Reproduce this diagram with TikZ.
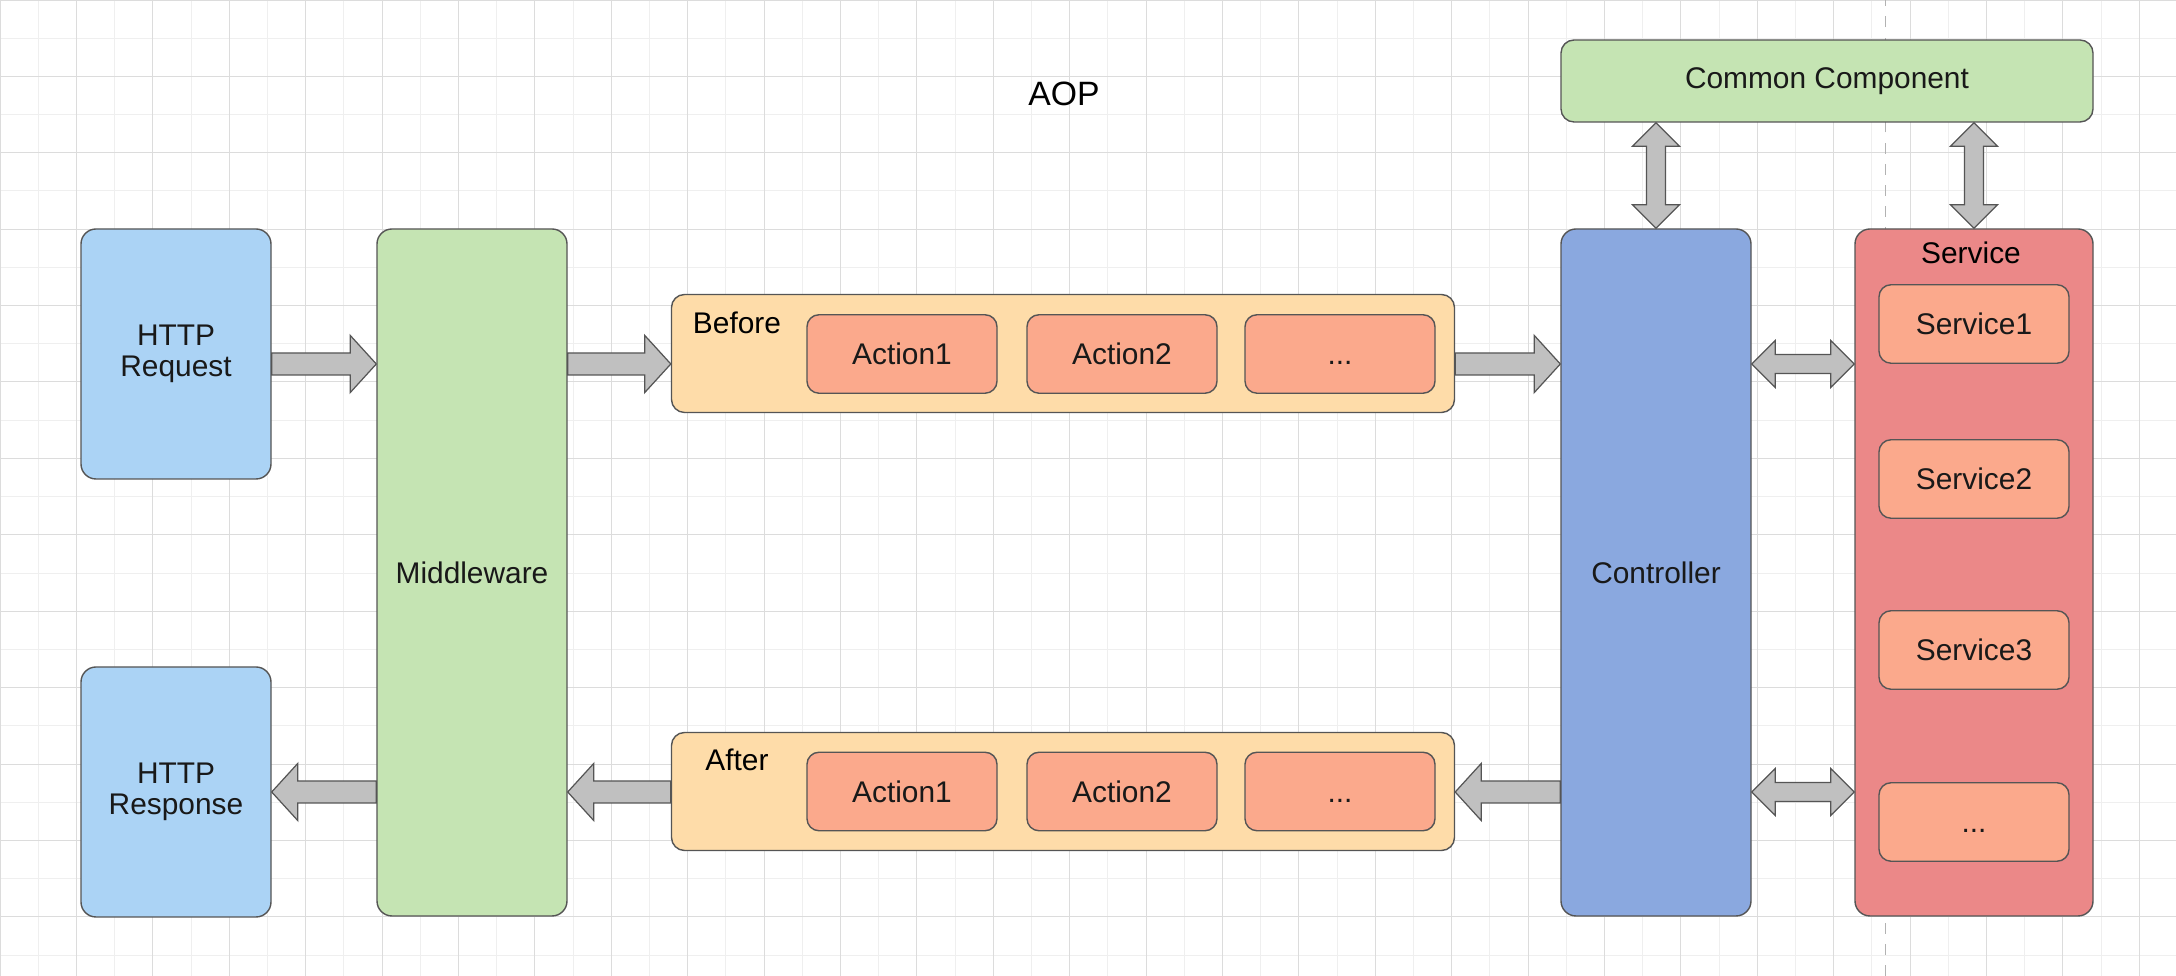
\documentclass[tikz,border=0pt]{standalone}
\usepackage{fontspec}
\setmainfont{Liberation Sans}
\usetikzlibrary{calc}

\definecolor{reqblue}{HTML}{ABD3F5}
\definecolor{mwgreen}{HTML}{C5E4B3}
\definecolor{hookorange}{HTML}{FEDCA9}
\definecolor{actsalmon}{HTML}{FBA98C}
\definecolor{ctrlblue}{HTML}{8AA8DF}
\definecolor{svcred}{HTML}{EB8888}
\definecolor{arrowgray}{HTML}{C0C0C0}
\definecolor{edgegray}{HTML}{555555}
\definecolor{gridminor}{HTML}{EFEFEF}
\definecolor{gridmajor}{HTML}{DCDCDC}

% fat arrow, tip at #2
\newcommand{\fatarrow}[2]{%
	\coordinate (fa-a) at (#1);
	\coordinate (fa-b) at (#2);
	\coordinate (fa-h) at ($(fa-b)!0.26cm!(fa-a)$);
	\draw[fatline] ($(fa-a)!0.11cm!90:(fa-b)$) -- ($(fa-h)!0.11cm!90:(fa-b)$)
		-- ($(fa-h)!0.285cm!90:(fa-b)$) -- (fa-b) -- ($(fa-h)!0.285cm!-90:(fa-b)$)
		-- ($(fa-h)!0.11cm!-90:(fa-b)$) -- ($(fa-a)!0.11cm!-90:(fa-b)$) -- cycle;
}
% fat arrow with two tips
\newcommand{\twowayarrow}[2]{%
	\coordinate (ta-a) at (#1);
	\coordinate (ta-b) at (#2);
	\coordinate (ta-ha) at ($(ta-a)!0.235cm!(ta-b)$);
	\coordinate (ta-hb) at ($(ta-b)!0.235cm!(ta-a)$);
	\draw[fatline] (ta-a) -- ($(ta-ha)!0.235cm!90:(ta-b)$) -- ($(ta-ha)!0.095cm!90:(ta-b)$)
		-- ($(ta-hb)!0.095cm!90:(ta-b)$) -- ($(ta-hb)!0.235cm!90:(ta-b)$) -- (ta-b)
		-- ($(ta-hb)!0.235cm!-90:(ta-b)$) -- ($(ta-hb)!0.095cm!-90:(ta-b)$)
		-- ($(ta-ha)!0.095cm!-90:(ta-b)$) -- ($(ta-ha)!0.235cm!-90:(ta-b)$) -- cycle;
}

\begin{document}
\begin{tikzpicture}[font=\fontsize{8.5}{8.8}\selectfont,
	box/.style={draw=edgegray, line width=0.4pt, rounded corners=0.15cm,
		align=center, inner sep=0pt, text=black!90},
	tallbox/.style={box, minimum width=1.9cm, minimum height=6.87cm},
	hookbox/.style={box, fill=hookorange, rounded corners=0.13cm,
		minimum width=7.83cm, minimum height=1.18cm},
	actbox/.style={box, fill=actsalmon, rounded corners=0.12cm,
		minimum width=1.9cm, minimum height=0.785cm,
		text height=0.215cm, text depth=0cm},
	fatline/.style={draw=edgegray, line width=0.35pt, fill=arrowgray}]
		\useasboundingbox (0,0) rectangle (21.76,9.76);
		\fill[white] (0,0) rectangle (21.76,9.76);
		\draw[gridminor, line width=0.28pt, shift={(0,9.76)}, step=0.382]
			(0,-9.76) grid (21.76,0);
		\draw[gridmajor, line width=0.28pt, shift={(0,9.76)}, step=0.764]
			(0,-9.76) grid (21.76,0);
		\draw[gray!60, line width=0.28pt, dash pattern=on 3pt off 3pt]
			(18.85,0) -- (18.85,9.76);

		\node[font=\fontsize{9.6}{11}\selectfont] (title) at (10.64,8.82) {AOP};

		\node[box, fill=reqblue, minimum width=1.9cm, minimum height=2.5cm]
			(req) at (1.76,6.22) {HTTP\\Request};
		\node[box, fill=reqblue, minimum width=1.9cm, minimum height=2.5cm]
			(resp) at (1.76,1.84) {HTTP\\Response};
		\node[tallbox, fill=mwgreen] (mw) at (4.72,4.035) {Middleware};

		\node[hookbox] (before) at (10.63,6.225) {};
		\node (beforelabel) at (7.37,6.53) {Before};
		\node[actbox] (b1) at (9.02,6.22) {Action1};
		\node[actbox] (b2) at (11.22,6.22) {Action2};
		\node[actbox] (b3) at (13.40,6.22) {...};

		\node[hookbox] (after) at (10.63,1.845) {};
		\node (afterlabel) at (7.37,2.16) {After};
		\node[actbox] (a1) at (9.02,1.845) {Action1};
		\node[actbox] (a2) at (11.22,1.845) {Action2};
		\node[actbox] (a3) at (13.40,1.845) {...};

		\node[tallbox, fill=ctrlblue] (ctrl) at (16.56,4.035) {Controller};
		\node[tallbox, fill=svcred, minimum width=2.38cm] (svc) at (19.74,4.035) {};
		\node (svclabel) at (19.71,7.23) {Service};
		\node[actbox] (s1) at (19.74,6.52) {Service1};
		\node[actbox] (s2) at (19.74,4.97) {Service2};
		\node[actbox] (s3) at (19.74,3.26) {Service3};
		\node[actbox] (s4) at (19.74,1.54) {...};

		\node[box, fill=mwgreen, rounded corners=0.13cm, minimum width=5.32cm,
			minimum height=0.82cm] (common) at (18.27,8.95) {Common Component};

		\coordinate (row1) at ([yshift=-1mm]req.east);
		\coordinate (row2) at (resp.east);
		\fatarrow{row1}{row1 -| mw.west}
		\fatarrow{row1 -| mw.east}{row1 -| before.west}
		\fatarrow{row1 -| before.east}{row1 -| ctrl.west}
		\twowayarrow{row1 -| ctrl.east}{row1 -| svc.west}
		\fatarrow{row2 -| mw.west}{row2}
		\fatarrow{row2 -| after.west}{row2 -| mw.east}
		\fatarrow{row2 -| ctrl.west}{row2 -| after.east}
		\twowayarrow{row2 -| ctrl.east}{row2 -| svc.west}
		\twowayarrow{ctrl.north}{ctrl.north |- common.south}
		\twowayarrow{svc.north}{svc.north |- common.south}
	\end{tikzpicture}
\end{document}
